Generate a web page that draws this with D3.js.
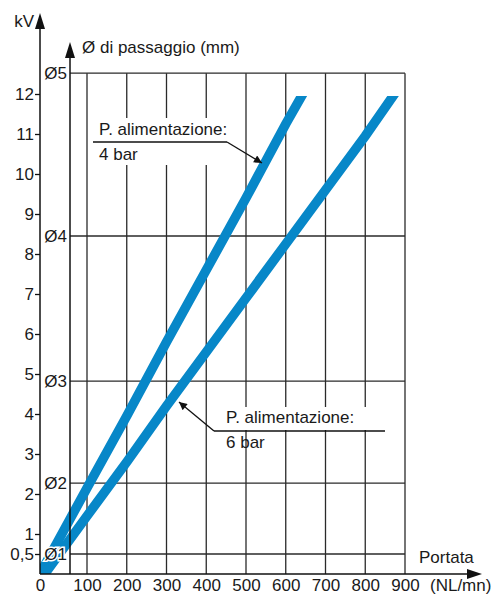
<!DOCTYPE html>
<meta charset="utf-8">
<script src="https://cdn.jsdelivr.net/npm/d3@7"></script>
<style>
  body { margin: 0; background: #fff; }
  text { font-family: "Liberation Sans", Arial, sans-serif; fill: #1a1a1a; }
</style>
<div id="chart"></div>
<script>
// flow ticks (NL/mn) and kV ticks
var flowTicks = [0, 100, 200, 300, 400, 500, 600, 700, 800, 900];
var kvTicks = [0.5, 1, 2, 3, 4, 5, 6, 7, 8, 9, 10, 11, 12];

// passage diameters and the kV level their grid line sits on
var diamLabels = ["Ø1", "Ø2", "Ø3", "Ø4", "Ø5"];
var diamKV = [0.5, 2.27, 4.82, 8.45, 12.52];

// supply pressure 4 bar
var flow4 = [0, 100, 200, 300, 400, 500, 600, 640];
var kv4 = [0, 2.15, 3.95, 5.8, 7.6, 9.4, 11.25, 11.95];
// supply pressure 6 bar
var flow6 = [10, 100, 200, 300, 400, 500, 600, 700, 800, 870];
var kv6 = [0, 1.45, 2.8, 4.2, 5.55, 6.9, 8.25, 9.6, 10.95, 11.95];

var W = 492, H = 595, FS = 17;
var svg = d3.select("#chart").append("svg")
  .attr("width", W).attr("height", H);

// first interval of the drawing is a bit wider than the rest
var x = d3.scaleLinear().domain([0, 100, 900]).range([40, 87, 405]);
var y = d3.scaleLinear().domain([0, 12]).range([574, 94]);

var x0 = x(0), yb = y(0), xD = 70, xEnd = x(900), yTop = y(diamKV[4]);

// vertical grid lines
svg.append("g").selectAll("line")
  .data(flowTicks.slice(1))
  .enter().append("line")
    .attr("x1", d => x(d)).attr("x2", d => x(d))
    .attr("y1", yTop).attr("y2", yb)
    .attr("stroke", "#2a2a2a").attr("stroke-width", 1.3);

// diameter grid lines
svg.append("g").selectAll("line")
  .data(diamKV)
  .enter().append("line")
    .attr("x1", xD).attr("x2", xEnd)
    .attr("y1", d => y(d)).attr("y2", d => y(d))
    .attr("stroke", "#2a2a2a").attr("stroke-width", 1.3);

// white boxes behind annotations
svg.append("rect").attr("x", 92).attr("y", 118).attr("width", 142).attr("height", 47).attr("fill", "#fff");
svg.append("rect").attr("x", 214).attr("y", 407).attr("width", 172).attr("height", 23).attr("fill", "#fff");

// curves
svg.append("clipPath").attr("id", "clip")
  .append("rect").attr("x", x0).attr("y", y(11.95))
  .attr("width", xEnd - x0).attr("height", yb - y(11.95));

var line = d3.line().x(d => x(d[0])).y(d => y(d[1]));
[[flow4, kv4], [flow6, kv6]].forEach(function(s) {
  svg.append("path")
    .datum(d3.zip(s[0], s[1]))
    .attr("clip-path", "url(#clip)")
    .attr("fill", "none")
    .attr("stroke", "#0787c8")
    .attr("stroke-width", 9.5)
    .attr("stroke-linecap", "square")
    .attr("d", line);
});

// axes lines
svg.append("line").attr("x1", x0).attr("x2", x0).attr("y1", yb).attr("y2", 27)
  .attr("stroke", "#111").attr("stroke-width", 1.5);
svg.append("line").attr("x1", xD).attr("x2", xD).attr("y1", yb).attr("y2", 56)
  .attr("stroke", "#111").attr("stroke-width", 1.5);
svg.append("line").attr("x1", x0).attr("x2", 469).attr("y1", yb).attr("y2", yb)
  .attr("stroke", "#111").attr("stroke-width", 1.5);

// arrow heads
svg.append("path").attr("d", "M" + x0 + ",13L" + (x0 - 5) + ",29L" + (x0 + 5) + ",29Z").attr("fill", "#111");
svg.append("path").attr("d", "M" + xD + ",42L" + (xD - 5) + ",58L" + (xD + 5) + ",58Z").attr("fill", "#111");
svg.append("path").attr("d", "M482," + yb + "L467," + (yb - 5) + "L467," + (yb + 5) + "Z").attr("fill", "#111");

// kV axis ticks
var yAxis = svg.append("g")
  .attr("transform", "translate(" + x0 + ",0)")
  .call(d3.axisLeft(y).tickValues(kvTicks).tickSize(5).tickPadding(1)
    .tickFormat(d => String(d).replace(".", ",")));
yAxis.select(".domain").remove();
yAxis.selectAll("line").attr("stroke", "#111").attr("stroke-width", 1.3);
yAxis.selectAll("text").attr("font-size", FS).attr("font-family", null).attr("fill", null);

// flow axis labels
var xAxis = svg.append("g")
  .attr("transform", "translate(0," + yb + ")")
  .call(d3.axisBottom(x).tickValues(flowTicks).tickSize(0).tickPadding(5));
xAxis.select(".domain").remove();
xAxis.selectAll("text").attr("font-size", FS).attr("font-family", null).attr("fill", null);

// diameter labels
svg.append("g").selectAll("text")
  .data(diamLabels)
  .enter().append("text")
    .attr("x", 67)
    .attr("y", (d, i) => y(diamKV[i]))
    .attr("dy", "0.36em")
    .attr("text-anchor", "end")
    .attr("font-size", FS)
    .attr("stroke", "#fff").attr("stroke-width", 3)
    .attr("paint-order", "stroke")
    .text(d => d);

// axis titles
svg.append("text").attr("x", 34).attr("y", 27).attr("text-anchor", "end").attr("font-size", FS).text("kV");
svg.append("text").attr("x", 82).attr("y", 53).attr("font-size", FS).text("Ø di passaggio (mm)");
svg.append("text").attr("x", 419).attr("y", 563).attr("font-size", FS).text("Portata");
svg.append("text").attr("x", 430).attr("y", 591).attr("font-size", FS).text("(NL/mn)");

// annotations
svg.append("defs").append("marker")
  .attr("id", "arr").attr("viewBox", "0 0 10 10")
  .attr("refX", 10).attr("refY", 5)
  .attr("markerWidth", 10).attr("markerHeight", 8)
  .attr("markerUnits", "userSpaceOnUse")
  .attr("orient", "auto")
  .append("path").attr("d", "M0,0L10,5L0,10Z").attr("fill", "#111");

function note(tx, ty, ux1, ux2, uy, ax, ay, bx, by, sub) {
  svg.append("text").attr("x", tx).attr("y", ty).attr("font-size", FS).text("P. alimentazione:");
  svg.append("text").attr("x", tx).attr("y", ty + 25).attr("font-size", FS).text(sub);
  svg.append("line").attr("x1", ux1).attr("x2", ux2).attr("y1", uy).attr("y2", uy)
    .attr("stroke", "#111").attr("stroke-width", 1.3);
  svg.append("line").attr("x1", ax).attr("y1", ay).attr("x2", bx).attr("y2", by)
    .attr("stroke", "#111").attr("stroke-width", 1.3)
    .attr("marker-end", "url(#arr)");
}
note(99, 135, 93, 227, 142, 227, 142, 262, 163, "4 bar");
note(226, 423, 214, 385, 431, 214, 431, 179, 402, "6 bar");
</script>
